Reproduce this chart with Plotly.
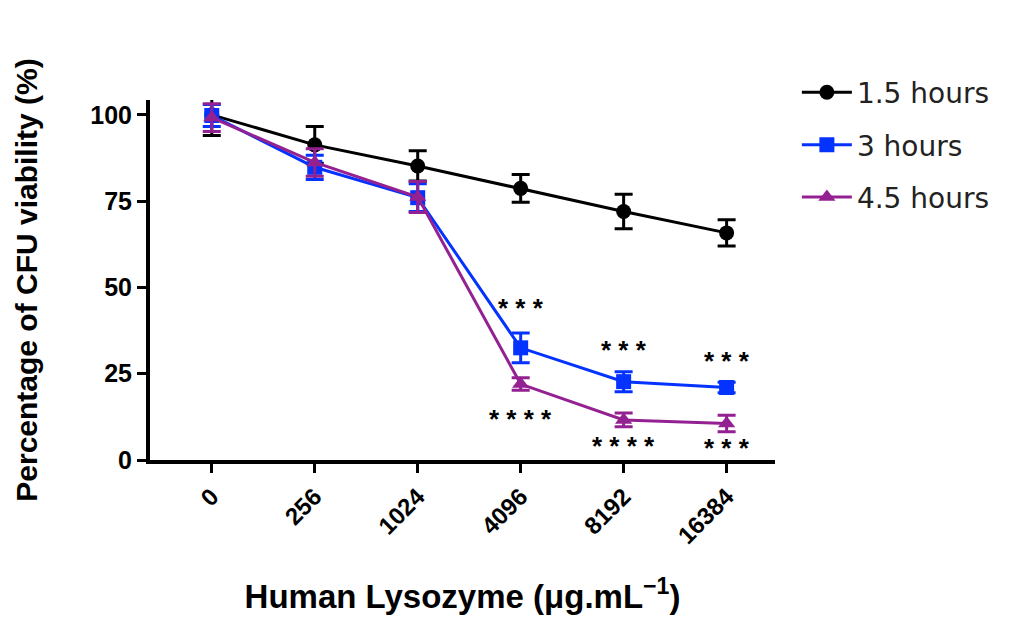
import plotly.graph_objects as go

conc_labels = ["0", "256", "1024", "4096", "8192", "16384"]
x_pos = [0, 1, 2, 3, 4, 5]

series_names = ["1.5 hours", "3 hours", "4.5 hours"]
vals_15h = [100.0, 91.3, 85.2, 78.7, 72.0, 65.8]
err_15h = [6.0, 5.3, 4.4, 4.0, 5.0, 3.8]
vals_3h = [99.8, 84.8, 76.0, 32.5, 22.7, 21.0]
err_3h = [3.2, 3.5, 4.0, 4.3, 2.9, 1.5]
vals_45h = [99.2, 86.2, 76.2, 22.0, 11.6, 10.6]
err_45h = [4.0, 4.0, 4.5, 1.8, 2.0, 2.4]

# significance labels: (x index, y value, text)
sig_x = [3, 3, 4, 4, 5, 5]
sig_y = [44.0, 11.8, 32.0, 4.2, 28.8, 3.6]
sig_text = ["* * *", "* * * *", "* * *", "* * * *", "* * *", "* * *"]

colors = ["#000000", "#0433FF", "#942192"]
symbols = ["circle", "square", "triangle-up"]

fig = go.Figure()
for i, (name, v, e) in enumerate(zip(series_names, [vals_15h, vals_3h, vals_45h], [err_15h, err_3h, err_45h])):
    fig.add_trace(go.Scatter(
        x=x_pos, y=v, name=name, mode="lines+markers",
        line=dict(color=colors[i], width=3),
        marker=dict(symbol=symbols[i], size=15, color=colors[i]),
        error_y=dict(type="data", array=e, visible=True, color=colors[i], thickness=3, width=9),
        legendgroup=name,
    ))

for sx, sy, st in zip(sig_x, sig_y, sig_text):
    fig.add_annotation(x=sx, y=sy, text="<b>%s</b>" % st, showarrow=False,
                       font=dict(family="Liberation Sans", size=26, color="black"),
                       xanchor="center", yanchor="middle")

font_bold = "Liberation Sans"
fig.update_layout(
    width=1010, height=619,
    margin=dict(l=150, r=235, t=100, b=159),
    plot_bgcolor="white", paper_bgcolor="white",
    font=dict(family=font_bold, color="black"),
    showlegend=True,
    legend=dict(x=1.035, y=1.09, xanchor="left", yanchor="top",
                font=dict(family="DejaVu Sans", size=28, color="#222"),
                tracegroupgap=13, itemwidth=50, bgcolor="rgba(0,0,0,0)"),
    xaxis=dict(
        range=[-0.6, 5.47], tickmode="array", tickvals=x_pos, ticktext=["<b>%s</b>" % t for t in conc_labels],
        tickangle=-45, showline=True, linewidth=4, linecolor="black",
        ticks="outside", ticklen=9, tickwidth=3, tickcolor="black",
        showgrid=False, zeroline=False, automargin=False,
        tickfont=dict(size=24, family=font_bold),
        title=dict(text="<b>Human Lysozyme (μg.mL<sup>−1</sup>)</b>", font=dict(size=33, family=font_bold), standoff=38),
    ),
    yaxis=dict(
        range=[0, 104.3], tickmode="array", tickvals=[0, 25, 50, 75, 100],
        ticktext=["<b>%d</b>" % t for t in [0, 25, 50, 75, 100]],
        showline=True, linewidth=4, linecolor="black",
        ticks="outside", ticklen=9, tickwidth=3, tickcolor="black",
        showgrid=False, zeroline=False, automargin=False,
        tickfont=dict(size=25, family=font_bold),
        title=dict(text="<b>Percentage of CFU viability (%)</b>", font=dict(size=30, family=font_bold), standoff=45),
    ),
)

fig.write_html("out.html")
